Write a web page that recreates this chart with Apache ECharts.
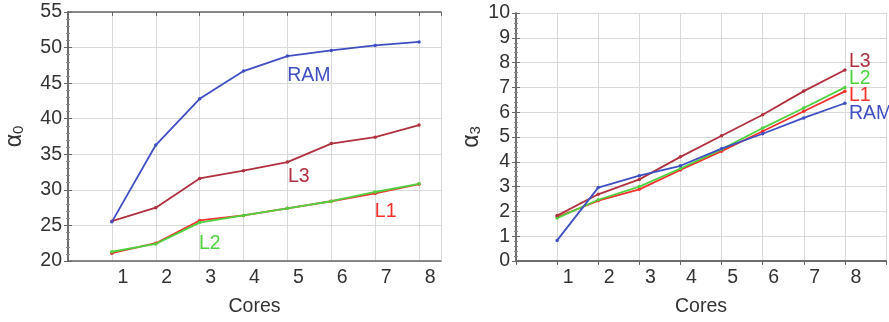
<!DOCTYPE html>
<html><head><meta charset="utf-8">
<script src="https://cdn.jsdelivr.net/npm/echarts@6/dist/echarts.min.js"></script>
<style>html,body{margin:0;padding:0;background:#fff}#c{width:889px;height:322px}</style>
</head><body><div id="c"></div>
<script>
const cores = [1, 2, 3, 4, 5, 6, 7, 8];
// left panel: alpha_0
const a0_RAM = [25.5, 36.3, 42.8, 46.7, 48.8, 49.6, 50.3, 50.8];
const a0_L3  = [25.6, 27.5, 31.6, 32.7, 33.9, 36.5, 37.4, 39.1];
const a0_L1  = [21.1, 22.5, 25.7, 26.4, 27.4, 28.4, 29.5, 30.8];
const a0_L2  = [21.3, 22.4, 25.4, 26.4, 27.4, 28.4, 29.7, 30.85];
// right panel: alpha_3
const a3_L3  = [1.83, 2.69, 3.29, 4.2, 5.05, 5.9, 6.85, 7.7];
const a3_L2  = [1.73, 2.47, 3.0, 3.73, 4.5, 5.36, 6.17, 7.0];
const a3_L1  = [1.77, 2.43, 2.89, 3.67, 4.43, 5.23, 6.04, 6.84];
const a3_RAM = [0.83, 2.96, 3.44, 3.84, 4.53, 5.13, 5.77, 6.36];

const C = {RAM:'#3f4fc2', L3:'#b0303f', L1:'#f2302c', L2:'#4fd23f'};
const FF = "'Liberation Sans', Arial, sans-serif";
const FS = 19.5;
const pts = a => cores.map((c,i)=>[c,a[i]]);

function xAxis(grid, max){
  return [{
    type:'value', gridIndex:grid, min:0, max:max, interval:1,
    name:'Cores', nameLocation:'middle', nameGap:36,
    nameTextStyle:{fontFamily:FF, fontSize:FS, color:'#333'},
    axisLine:{lineStyle:{color:'#666', width:1.5}},
    axisTick:{show:false},
    axisLabel:{fontFamily:FF, fontSize:FS, color:'#333', margin:7, padding:[0,0,0,22],
      formatter:v=> (v>=1 && v<=8 && Number.isInteger(v)) ? String(v) : ''},
    splitLine:{show:true, lineStyle:{color:'#d9d9d9', width:1}}
  },{
    type:'value', gridIndex:grid, position:'top', min:0, max:max, interval:1,
    axisLine:{show:true, lineStyle:{color:'#666', width:1.5}},
    axisTick:{show:true, inside:true, length:4, lineStyle:{color:'#666'}},
    axisLabel:{show:false}, splitLine:{show:false}
  }];
}
function yAxis(grid, min, max, interval, sub){
  return [{
    type:'value', gridIndex:grid, min:min, max:max, interval:interval,
    name:'{a|α}{s|'+sub+'}', nameLocation:'middle', nameGap: grid===0?42:33, nameRotate:90,
    nameTextStyle:{rich:{a:{fontFamily:FF, fontSize:23, color:'#333'}, s:{fontFamily:FF, fontSize:15, color:'#333', verticalAlign:'bottom', padding:[8,0,0,0]}}},
    axisLine:{show:true, lineStyle:{color:'#666', width:1.5}},
    axisTick:{show:true, inside:true, length:4, lineStyle:{color:'#666'}},
    minorTick:{show:true, splitNumber:5, length:2, lineStyle:{color:'#888'}},
    axisLabel:{fontFamily:FF, fontSize:FS, color:'#333', margin:6},
    splitLine:{show:true, lineStyle:{color:'#d9d9d9', width:1}}
  },{
    type:'value', gridIndex:grid, position:'right', min:min, max:max, interval:interval,
    axisLine:{show:true, lineStyle:{color:'#666', width:1.5}},
    axisTick:{show:true, inside:true, length:4, lineStyle:{color:'#666'}},
    minorTick:{show:true, splitNumber:5, length:2, lineStyle:{color:'#888'}},
    axisLabel:{show:false}, splitLine:{show:false}
  }];
}
function line(name, data, xi, yi, lbl){
  const s = {
    type:'line', name:name, data:pts(data), xAxisIndex:xi, yAxisIndex:yi,
    symbol:'circle', symbolSize:3.5, showSymbol:true,
    lineStyle:{color:C[name], width:1.8}, itemStyle:{color:C[name]},
    animation:false, z:3
  };
  if (lbl) s.markPoint = {symbol:'circle', symbolSize:0, animation:false,
    data:[{coord:lbl.coord, label:{show:true, position:'inside', formatter:name, align:lbl.align||'center',
      fontFamily:FF, fontSize:FS, color:C[name]}}]};
  return s;
}
const chart = echarts.init(document.getElementById('c'), null, {renderer:'canvas'});
chart.setOption({
  backgroundColor:'#fff',
  grid:[{left:68, top:12, width:373, height:249},{left:516, top:13, width:371, height:250}],
  xAxis:[...xAxis(0, 8.5), ...xAxis(1, 9)],
  yAxis:[...yAxis(0, 20, 55, 5, '0'), ...yAxis(1, 0, 10, 1, '3')],
  series:[
    line('L1', a0_L1, 0, 0, {coord:[7.24, 27.0]}),
    line('L2', a0_L2, 0, 0, {coord:[3.23, 22.5]}),
    line('L3', a0_L3, 0, 0, {coord:[5.26, 31.9]}),
    line('RAM', a0_RAM, 0, 0, {coord:[5.49, 46.1]}),
    line('L1', a3_L1, 2, 2, {coord:[8.1, 6.68], align:'left'}),
    line('L2', a3_L2, 2, 2, {coord:[8.1, 7.36], align:'left'}),
    line('L3', a3_L3, 2, 2, {coord:[8.1, 8.05], align:'left'}),
    line('RAM', a3_RAM, 2, 2, {coord:[8.1, 5.96], align:'left'})
  ]
});
</script></body></html>
